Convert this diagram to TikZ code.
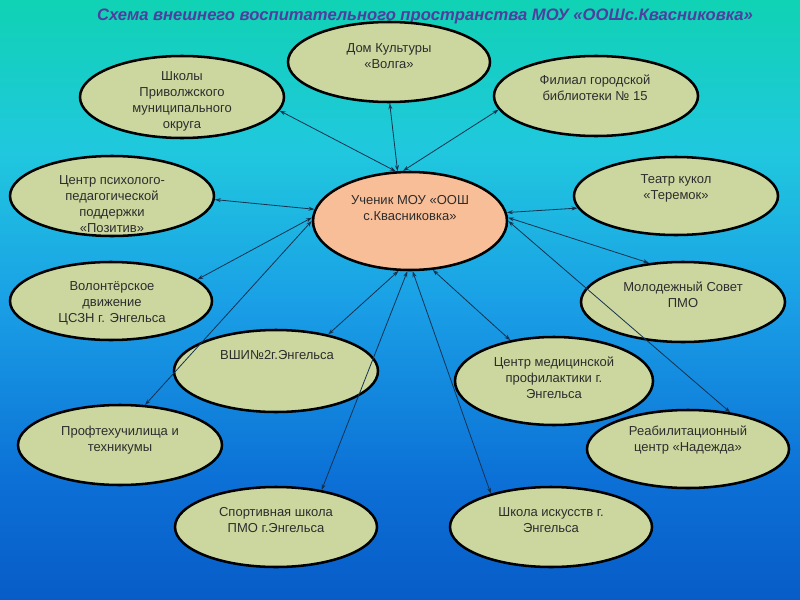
\documentclass[tikz,border=0pt]{standalone}
\usepackage{fontspec}
\setmainfont{Liberation Sans}
\usetikzlibrary{shapes.geometric,arrows.meta}

\definecolor{bgA}{RGB}{16,210,180}
\definecolor{bgB}{RGB}{32,200,222}
\definecolor{bgC}{RGB}{26,160,230}
\definecolor{bgD}{RGB}{12,112,214}
\definecolor{bgE}{RGB}{8,92,200}
\definecolor{bubblefill}{RGB}{204,215,160}
\definecolor{pupilfill}{RGB}{248,190,152}
\definecolor{titlecol}{RGB}{78,62,158}
\definecolor{linkcol}{RGB}{20,50,80}
\definecolor{textcol}{RGB}{45,45,45}

\tikzset{
    bubble/.style 2 args={ellipse, draw=black, line width=1.9pt, fill=bubblefill,
        inner sep=0pt, minimum width=#1, minimum height=#2},
    txt/.style={align=center, text=textcol, font=\fontsize{9.75}{12}\selectfont},
    link/.style={draw=linkcol, line width=0.6pt, {Stealth[length=4.5pt,width=3pt]}-{Stealth[length=4.5pt,width=3pt]}}
}

\begin{document}
\begin{tikzpicture}[x=0.75pt, y=-0.75pt]
    \useasboundingbox (0,0) rectangle (800,600);

    % background
    \shade[top color=bgA, bottom color=bgB] (0,0) rectangle (800,150.5);
    \shade[top color=bgB, bottom color=bgC] (0,150) rectangle (800,300.5);
    \shade[top color=bgC, bottom color=bgD] (0,300) rectangle (800,480.5);
    \shade[top color=bgD, bottom color=bgE] (0,480) rectangle (800,600);

    \node[font=\fontsize{12.45}{14}\selectfont\bfseries\itshape, text=titlecol] (title) at (425,16)
        {Схема внешнего воспитательного пространства МОУ «ООШс.Квасниковка»};

    % ellipses
    \node[bubble={151.5pt}{60pt}] (dom) at (389,62) {};
    \node[bubble={153pt}{61.5pt}] (shkoly) at (182,97) {};
    \node[bubble={153pt}{60pt}] (filial) at (596,96) {};
    \node[bubble={153pt}{60pt}] (psych) at (112,196) {};
    \node[bubble={145.5pt}{73.5pt}, fill=pupilfill] (ucenik) at (410,221) {};
    \node[bubble={153pt}{58.5pt}] (teatr) at (676,196) {};
    \node[bubble={151.5pt}{58.5pt}] (volont) at (111,301) {};
    \node[bubble={153pt}{60pt}] (molod) at (683,302) {};
    \node[bubble={153pt}{61.5pt}] (vshi) at (276,371) {};
    \node[bubble={148.5pt}{66pt}] (medic) at (554,381) {};
    \node[bubble={153pt}{60pt}] (proftech) at (120,445) {};
    \node[bubble={151.5pt}{58.5pt}] (reab) at (688,449) {};
    \node[bubble={151.5pt}{60pt}] (sport) at (276,527) {};
    \node[bubble={151.5pt}{60pt}] (iskus) at (551,527) {};

    % texts
    \node[txt] (dom-t) at (389,56) {Дом Культуры\\«Волга»};
    \node[txt] (shkoly-t) at (182,101) {Школы\\Приволжского\\муниципального\\округа};
    \node[txt] (filial-t) at (595,88) {Филиал городской\\библиотеки № 15};
    \node[txt] (psych-t) at (112,204) {Центр психолого-\\педагогической\\поддержки\\«Позитив»};
    \node[txt] (ucenik-t) at (410,208) {Ученик МОУ «ООШ\\с.Квасниковка»};
    \node[txt] (teatr-t) at (676,188) {Театр кукол\\«Теремок»};
    \node[txt] (volont-t) at (112,303) {Волонтёрское\\движение\\ЦСЗН г. Энгельса};
    \node[txt] (molod-t) at (683,295) {Молодежный Совет\\ПМО};
    \node[txt] (vshi-t) at (277,355) {ВШИ№2г.Энгельса};
    \node[txt] (medic-t) at (554,378) {Центр медицинской\\профилактики г.\\Энгельса};
    \node[txt] (proftech-t) at (120,440) {Профтехучилища и\\техникумы};
    \node[txt] (reab-t) at (688,440) {Реабилитационный\\центр «Надежда»};
    \node[txt] (sport-t) at (276,520) {Спортивная школа\\ПМО г.Энгельса};
    \node[txt] (iskus-t) at (551,520) {Школа искусств г.\\Энгельса};

    % connectors
    \foreach \a/\b/\c in {106/shkoly/-8, 104/dom/-89, 98/filial/188,
                          173/psych/-2, 178/volont/14, 180/proftech/58,
                          -103/vshi/35, -93/sport/39, -87/iskus/151,
                          -65/medic/137, 5/teatr/187, 2/molod/131, 0/reab/41} {
        \draw[link] (ucenik.\a) -- (\b.\c);
    }
\end{tikzpicture}
\end{document}
